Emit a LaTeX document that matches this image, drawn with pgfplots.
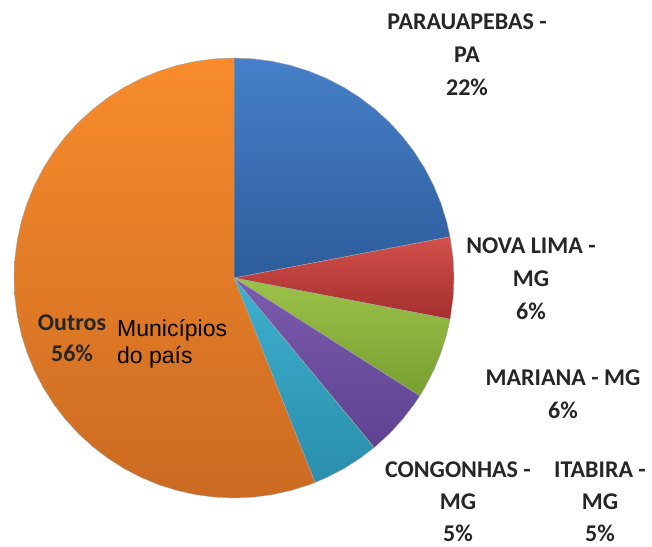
\documentclass[border=0pt]{standalone}
\usepackage{pgfplots}
\pgfplotsset{compat=1.18}
\usepackage{fontspec}
\setmainfont{Carlito}
\newfontfamily\arialfont{Liberation Sans}
\definecolor{cblueT}{HTML}{4680C8}
\definecolor{cblueB}{HTML}{2D5C9B}
\definecolor{credT}{HTML}{D2504C}
\definecolor{credB}{HTML}{A42E2C}
\definecolor{cgreenT}{HTML}{9CC24A}
\definecolor{cgreenB}{HTML}{779F2E}
\definecolor{cpurpT}{HTML}{7B5BAE}
\definecolor{cpurpB}{HTML}{5E4290}
\definecolor{ccyanT}{HTML}{3DB0CF}
\definecolor{ccyanB}{HTML}{2A8EAC}
\definecolor{corangeT}{HTML}{F88C2C}
\definecolor{corangeB}{HTML}{CB6A22}
\begin{document}
\begin{tikzpicture}
\path[use as bounding box] (0,0) rectangle (652bp,547bp);
% Shares (%): Parauapebas 22, Nova Lima 6, Mariana 6, Itabira 5, Congonhas 5, Outros 56
% slice boundaries (degrees, clockwise from 90): 90, 10.8, -10.8, -32.4, -50.4, -68.4, -270
\begin{axis}[
  at={(234bp,269bp)}, anchor=center,
  scale only axis, width=440bp, height=440bp,
  xmin=-1, xmax=1, ymin=-1, ymax=1,
  hide axis, clip=false,
  data cs=polar,
]
% Parauapebas 22%
\addplot[draw=black!35, line width=0.4pt, top color=cblueT, bottom color=cblueB] coordinates {
 (0,0) (90,1) (85,1) (80,1) (75,1) (70,1) (65,1) (60,1) (55,1) (50,1) (45,1) (40,1) (35,1) (30,1) (25,1) (20,1) (15,1) (10.8,1)
} --cycle;
% Nova Lima 6%
\addplot[draw=black!35, line width=0.4pt, top color=credT, bottom color=credB] coordinates {
 (0,0) (10.8,1) (5,1) (0,1) (-5,1) (-10.8,1)
} --cycle;
% Mariana 6%
\addplot[draw=black!35, line width=0.4pt, top color=cgreenT, bottom color=cgreenB] coordinates {
 (0,0) (-10.8,1) (-15,1) (-20,1) (-25,1) (-30,1) (-32.4,1)
} --cycle;
% Itabira 5%
\addplot[draw=black!35, line width=0.4pt, top color=cpurpT, bottom color=cpurpB] coordinates {
 (0,0) (-32.4,1) (-35,1) (-40,1) (-45,1) (-50,1) (-50.4,1)
} --cycle;
% Congonhas 5%
\addplot[draw=black!35, line width=0.4pt, top color=ccyanT, bottom color=ccyanB] coordinates {
 (0,0) (-50.4,1) (-55,1) (-60,1) (-65,1) (-68.4,1)
} --cycle;
% Outros 56%
\addplot[draw=black!35, line width=0.4pt, top color=corangeT, bottom color=corangeB] coordinates {
 (0,0) (-68.4,1) (-70,1) (-75,1) (-80,1) (-85,1) (-90,1) (-95,1) (-100,1) (-105,1) (-110,1) (-115,1) (-120,1) (-125,1) (-130,1) (-135,1) (-140,1) (-145,1) (-150,1) (-155,1) (-160,1) (-165,1) (-170,1) (-175,1) (-180,1) (-185,1) (-190,1) (-195,1) (-200,1) (-205,1) (-210,1) (-215,1) (-220,1) (-225,1) (-230,1) (-235,1) (-240,1) (-245,1) (-250,1) (-255,1) (-260,1) (-265,1) (-270,1)
} --cycle;
\end{axis}
\tikzset{lab/.style={align=center, text=black!85, font=\fontsize{24bp}{33bp}\selectfont\bfseries, inner sep=0pt}}
\node[lab] at (467bp,492bp) {PARAUAPEBAS -\\PA\\22\%};
\node[lab] at (531bp,268bp) {NOVA LIMA -\\MG\\6\%};
\node[lab] at (563bp,153bp) {MARIANA - MG\\6\%};
\node[lab, font=\fontsize{24bp}{32bp}\selectfont\bfseries] at (458bp,45bp) {CONGONHAS -\\MG\\5\%};
\node[lab, font=\fontsize{24bp}{32bp}\selectfont\bfseries] at (600bp,45bp) {ITABIRA -\\MG\\5\%};
\node[lab, font=\fontsize{24bp}{31bp}\selectfont\bfseries] at (72bp,209bp) {Outros\\56\%};
\node[align=left, anchor=west, inner sep=0pt, font=\arialfont\fontsize{23bp}{27bp}\selectfont] at (117bp,203bp) {Municípios\\do país};
\end{tikzpicture}
\end{document}
